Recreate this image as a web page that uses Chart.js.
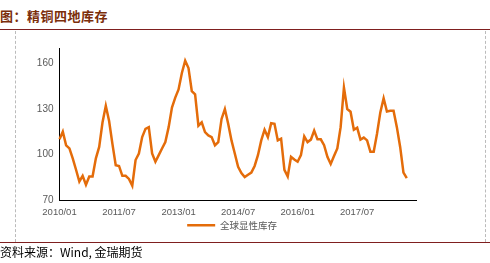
<!DOCTYPE html>
<html>
<head>
<meta charset="utf-8">
<script src="https://cdn.jsdelivr.net/npm/chart.js@4/dist/chart.umd.min.js"></script>
<style>
  body { margin: 0; width: 490px; height: 263px; background: #fff; position: relative; overflow: hidden; font-family: "Noto Sans CJK SC", sans-serif; }
  #title { position: absolute; left: 0; top: 6px; font-size: 13px; font-weight: bold; color: #7b2e0b; letter-spacing: 0.5px; }
  #topLine { position: absolute; left: 0; top: 29px; width: 490px; height: 0; border-top: 1.5px solid #7f1f1f; }
  #bottomLine { position: absolute; left: 0; top: 242px; width: 490px; height: 0; border-top: 1.5px solid #7f1f1f; }
  #leftDash { position: absolute; left: 15px; top: 31px; height: 211px; border-left: 1px dashed #bbb; }
  #rightDash { position: absolute; left: 485px; top: 31px; height: 211px; border-left: 1px dashed #bbb; }
  #source { position: absolute; left: 0; top: 243px; font-size: 12px; color: #000; }
  #box { position: absolute; left: 0; top: 36.3px; width: 430px; height: 207.1px; }
</style>
</head>
<body>
<div id="title">图：精铜四地库存</div>
<div id="topLine"></div>
<div id="leftDash"></div>
<div id="rightDash"></div>
<div id="box"><canvas id="stockChart"></canvas></div>
<div id="bottomLine"></div>
<div id="source">资料来源：Wind, 金瑞期货</div>
<script>
// monthly categories 2010/01 - 2019/01
const months = [];
for (let y = 2010; y <= 2019; y++) {
    for (let m = 1; m <= 12; m++) {
        if (y === 2019 && m > 1) break;
        months.push(y + '/' + (m < 10 ? '0' + m : m));
    }
}

const shownLabels = ['2010/01', '2011/07', '2013/01', '2014/07', '2016/01', '2017/07'];
const yTicks = [70, 100, 130, 160];

const stockValues = [
    110, 115, 106, 104, 97.5, 90, 82.3, 86, 80.2, 85.6,
    85.6, 97.5, 105, 121, 132, 122, 107, 93, 92.5, 86,
    86, 84, 79.5, 96.4, 100.7, 111.5, 116.9, 118, 100.7, 95.3,
    99.6, 104, 108.2, 118, 130.9, 137.4, 142.8, 153.6, 161.6, 156.8,
    141.7, 139.6, 119, 121.2, 114.7, 112.6, 111.5, 106.1, 108.2, 123.4,
    129.9, 120.2, 109.3, 100.7, 92, 87.8, 85.2, 86.7, 88.1, 92.5,
    99.6, 109.3, 116.3, 111.5, 120.6, 120.2, 109.3, 110.4, 89.9, 85.6,
    98.5, 96.8, 95.3, 99.6, 111.9, 108.2, 109.8, 115.8, 110, 110,
    106.1, 98.5, 93.8, 99, 104, 118, 144, 129.9, 128.1, 116.3,
    117.6, 109.8, 111.1, 109.3, 101.8, 101.8, 113.7, 127.7, 137, 128.3,
    128.7, 128.7, 118, 105, 88.1, 84.5
];

const lineColor = '#e46c0a';
const tickColor = '#595959';

// nudge the legend so it sits where the original one is
const legendShift = {
    id: 'legendShift',
    afterLayout: function (chart) {
        chart.legend.left += 13.7;
        chart.legend.right += 13.7;
        chart.legend.top -= 3;
        chart.legend.bottom -= 3;
    }
};

new Chart(document.getElementById('stockChart'), {
    type: 'line',
    data: {
        labels: months,
        datasets: [{
            label: '全球显性库存',
            data: stockValues,
            borderColor: lineColor,
            backgroundColor: lineColor,
            borderWidth: 2.5,
            pointRadius: 0,
            pointStyle: 'line',
            tension: 0
        }]
    },
    options: {
        responsive: true,
        maintainAspectRatio: false,
        animation: false,
        layout: { padding: { left: 20, right: 13.3, top: 2.4, bottom: 0 } },
        plugins: {
            legend: {
                position: 'bottom',
                labels: {
                    usePointStyle: true,
                    pointStyleWidth: 28,
                    boxHeight: 3,
                    color: tickColor,
                    padding: 0,
                    font: { size: 9.5, family: '"Noto Sans CJK SC", sans-serif' }
                }
            },
            tooltip: { enabled: false }
        },
        scales: {
            x: {
                offset: false,
                grid: { display: false, drawTicks: false },
                border: { color: '#000', width: 1 },
                ticks: {
                    autoSkip: false,
                    maxRotation: 0,
                    padding: 6,
                    color: tickColor,
                    font: { size: 9.5, family: '"Liberation Sans", sans-serif' },
                    callback: function (value) {
                        const lab = this.getLabelForValue(value);
                        return shownLabels.includes(lab) ? lab : '';
                    }
                }
            },
            y: {
                min: 70,
                max: 170,
                grid: { display: false, drawTicks: false },
                border: { color: '#000', width: 1 },
                afterFit: function (scale) { scale.width = 39.5; },
                afterBuildTicks: function (scale) {
                    scale.ticks = yTicks.map(v => ({ value: v }));
                },
                ticks: {
                    padding: 6,
                    color: tickColor,
                    font: { size: 10, family: '"Liberation Sans", sans-serif' }
                }
            }
        }
    },
    plugins: [legendShift]
});
</script>
</body>
</html>
